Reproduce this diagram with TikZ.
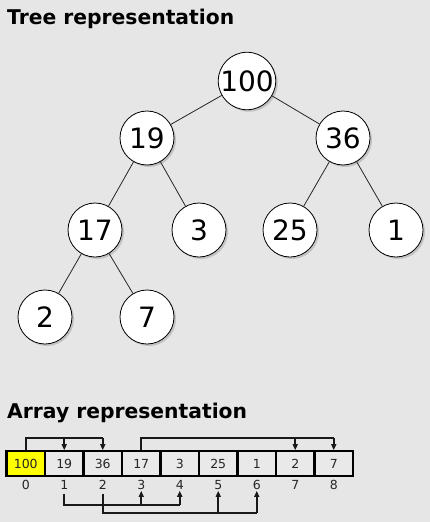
\documentclass[tikz,border=0pt]{standalone}
\usepackage{fontspec}
\setmainfont{DejaVu Sans}
\usetikzlibrary{arrows.meta,shadows}
\definecolor{bg}{HTML}{E6E6E6}
\definecolor{cellbg}{HTML}{E9E9E9}
\definecolor{hl}{HTML}{FFFF00}
\tikzset{
  treenode/.style={circle,draw=black,line width=0.8pt,fill=white,minimum size=54pt,inner sep=0pt,
     font=\fontsize{28}{30}\selectfont, drop shadow={shadow xshift=2pt,shadow yshift=-2pt,opacity=0.35,fill=gray}},
  edge/.style={draw=black!85,line width=0.8pt},
  cell/.style={draw=black,line width=2.2pt,fill=cellbg,minimum width=38.5pt,minimum height=24.5pt,inner sep=0pt,
     font=\fontsize{12.5}{14}\selectfont,text=black!85},
  idx/.style={font=\fontsize{12.5}{14}\selectfont,text=black!85,inner sep=0pt},
  title/.style={font=\fontsize{20.3}{22}\selectfont\bfseries,anchor=base west,inner sep=0pt},
  link/.style={draw=black!90,line width=2pt},
  larr/.style={link,-{Triangle[length=6pt,width=5pt]}}
}
\begin{document}
\begin{tikzpicture}[x=1pt,y=-1pt]
\fill[bg] (0,0) rectangle (430,522);
\useasboundingbox (0,0) rectangle (430,522);
\node[title] (t1) at (7,24) {Tree representation};
\node[title] (t2) at (7,418) {Array representation};
% tree
\node[treenode] (n100) at (247,81) {100};
\node[treenode] (n19) at (147,138) {19};
\node[treenode] (n36) at (343,138) {36};
\node[treenode] (n17) at (95,230) {17};
\node[treenode] (n3) at (199,230) {3};
\node[treenode] (n25) at (290,230) {25};
\node[treenode] (n1) at (396,230) {1};
\node[treenode] (n2) at (45,317) {2};
\node[treenode] (n7) at (147,317) {7};
\draw[edge] (n100) -- (n19);
\draw[edge] (n100) -- (n36);
\draw[edge] (n19) -- (n17);
\draw[edge] (n19) -- (n3);
\draw[edge] (n36) -- (n25);
\draw[edge] (n36) -- (n1);
\draw[edge] (n17) -- (n2);
\draw[edge] (n17) -- (n7);
% array
\foreach \v [count=\i from 0] in {100,19,36,17,3,25,1,2,7} {
  \node[cell] (c\i) at (25.75+38.5*\i,463.5) {\v};
  \node[idx] (i\i) at (25.75+38.5*\i,485) {\i};
}
\node[cell,fill=hl] at (c0) {100};
% top links
\coordinate (ta) at (25.75,438);
\draw[link] (c0.north) -- (ta) -- (ta -| c2.north);
\draw[larr] (ta -| c1.north) -- (c1.north);
\draw[larr] (ta -| c2.north) -- (c2.north);
\coordinate (tb) at (141.25,438);
\draw[link] (c3.north) -- (tb) -- (tb -| c8.north);
\draw[larr] (tb -| c7.north) -- (c7.north);
\draw[larr] (tb -| c8.north) -- (c8.north);
% bottom links
\coordinate (ba) at (64.25,504.5);
\draw[link] ([yshift=-4pt]i1.south) -- (ba) -- (ba -| i4.south);
\draw[larr] (ba -| i3.south) -- ([yshift=-1pt]i3.south);
\draw[larr] (ba -| i4.south) -- ([yshift=-1pt]i4.south);
\coordinate (bb) at (102.75,513);
\draw[link] ([yshift=-4pt]i2.south) -- (bb) -- (bb -| i6.south);
\draw[larr] (bb -| i5.south) -- ([yshift=-1pt]i5.south);
\draw[larr] (bb -| i6.south) -- ([yshift=-1pt]i6.south);
\end{tikzpicture}
\end{document}
